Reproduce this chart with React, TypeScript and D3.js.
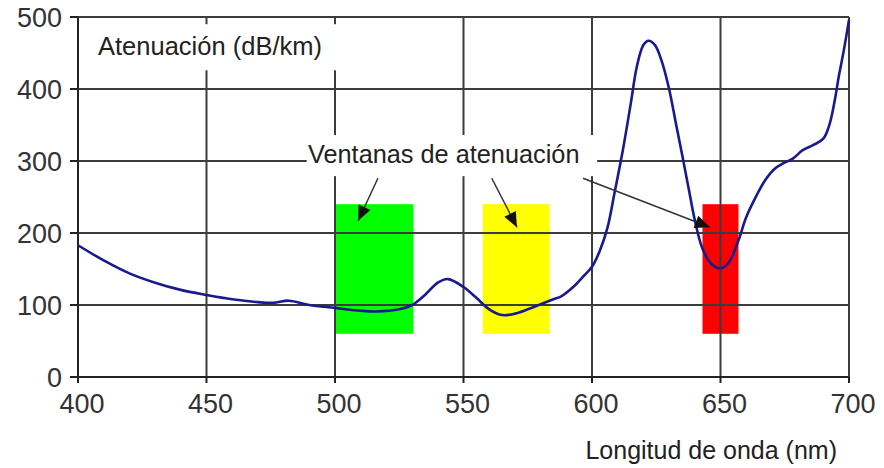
import React from 'react';
import * as d3 from 'd3';

// attenuation curve (nm -> dB/km)
const wavelengths = [
  400, 410, 420, 430, 440, 450, 460, 470, 476, 482, 490, 500, 510, 516, 525, 530, 535, 540, 544,
  550, 555, 560, 565, 570, 575, 580, 585, 588, 593, 597, 600, 603, 606, 609, 612, 615, 617.5, 620,
  622, 624.5, 627, 630, 632.5, 635, 637.5, 640, 643, 646.5, 650, 653, 657, 660, 664, 667.5, 671,
  674.5, 678, 682, 686, 690, 692.5, 694.5, 696, 698, 700,
];
const attenuation = [
  183, 162, 144, 131, 121, 114, 108, 104, 103, 106, 100, 96, 92, 91, 94, 100, 114, 131, 136,
  125, 110, 94, 86, 88, 94, 101, 108, 112, 126, 141, 153, 175, 207, 260, 315, 378, 432, 461,
  467, 461, 440, 400, 355, 310, 264, 218, 178, 157, 151, 158, 190, 222, 252, 274, 289,
  297, 303, 315, 322, 331, 352, 385, 417, 454, 496,
];

// transmission windows
const windowStart = [500, 557.5, 643];
const windowEnd = [530.5, 583.5, 657];
const windowColors = ['#00ff00', '#ffff00', '#ff0000'];
const windowLow = 60;
const windowHigh = 240;

const xTicks = [400, 450, 500, 550, 600, 650, 700];
const yTicks = [0, 100, 200, 300, 400, 500];

// annotation arrows, in data units: [fromNm, fromVal, toNm, toVal]
const arrows = [
  [516.7, 276, 509, 217],
  [561, 276, 570.8, 208],
  [596.5, 276, 645.9, 208],
];

const W = 884;
const H = 468;
const FONT = "'Liberation Sans', Arial, sans-serif";

const App: React.FC = () => {
  const x = d3.scaleLinear().domain([400, 700]).range([78, 849]);
  const y = d3.scaleLinear().domain([0, 500]).range([377, 17]);

  const pts: [number, number][] = wavelengths.map((w, i) => [w, attenuation[i]]);
  const line = d3
    .line<[number, number]>()
    .x((d) => x(d[0]))
    .y((d) => y(d[1]))
    .curve(d3.curveCatmullRom.alpha(0.5));

  const arrowHead = (x1: number, y1: number, x2: number, y2: number) => {
    const a = Math.atan2(y2 - y1, x2 - x1);
    const len = 15;
    const hw = 6.5;
    const bx = x2 - len * Math.cos(a);
    const by = y2 - len * Math.sin(a);
    const px = -Math.sin(a) * hw;
    const py = Math.cos(a) * hw;
    return `M${x2},${y2}L${bx + px},${by + py}L${bx - px},${by - py}Z`;
  };

  return (
    <svg width={W} height={H} style={{ position: 'absolute', left: 0, top: 0, background: '#fff' }}>
      {/* colored windows */}
      {windowStart.map((s, i) => (
        <rect
          key={'w' + i}
          x={x(s)}
          y={y(windowHigh)}
          width={x(windowEnd[i]) - x(s)}
          height={y(windowLow) - y(windowHigh)}
          fill={windowColors[i]}
        />
      ))}

      {/* grid */}
      {xTicks.slice(1).map((t) => (
        <line key={'gx' + t} x1={x(t)} x2={x(t)} y1={y(500)} y2={y(0)} stroke="#3c3c3c" strokeWidth={2} />
      ))}
      {yTicks.slice(1).map((t) => (
        <line key={'gy' + t} x1={x(400)} x2={x(700)} y1={y(t)} y2={y(t)} stroke="#3c3c3c" strokeWidth={2} />
      ))}

      {/* axes */}
      <line x1={x(400)} x2={x(400)} y1={y(500)} y2={y(0) + 6} stroke="#222" strokeWidth={2} />
      <line x1={x(400) - 8} x2={x(700)} y1={y(0)} y2={y(0)} stroke="#222" strokeWidth={2} />
      {xTicks.map((t) => (
        <line key={'tx' + t} x1={x(t)} x2={x(t)} y1={y(0)} y2={y(0) + 6} stroke="#222" strokeWidth={2} />
      ))}
      {yTicks.map((t) => (
        <line key={'ty' + t} x1={x(400) - 8} x2={x(400)} y1={y(t)} y2={y(t)} stroke="#222" strokeWidth={2} />
      ))}

      {/* tick labels */}
      {yTicks.map((t) => (
        <text
          key={'ly' + t}
          x={62}
          y={y(t)}
          dy="0.36em"
          textAnchor="end"
          fontFamily={FONT}
          fontSize={27}
          fill="#333"
        >
          {t}
        </text>
      ))}
      {xTicks.map((t) => (
        <text
          key={'lx' + t}
          x={x(t) + 4}
          y={413}
          textAnchor="middle"
          fontFamily={FONT}
          fontSize={27}
          fill="#333"
        >
          {t}
        </text>
      ))}

      {/* label boxes */}
      <rect x={x(403.9)} y={y(490)} width={x(502) - x(403.9)} height={y(426) - y(490)} fill="#fff" />
      <rect x={x(489)} y={y(336)} width={x(602) - x(489)} height={y(279) - y(336)} fill="#fff" />

      {/* curve */}
      <path d={line(pts) || ''} fill="none" stroke="#1a1a8c" strokeWidth={2.6} />

      {/* arrows */}
      {arrows.map((a, i) => {
        const x1 = x(a[0]);
        const y1 = y(a[1]);
        const x2 = x(a[2]);
        const y2 = y(a[3]);
        return (
          <g key={'a' + i}>
            <line x1={x1} y1={y1} x2={x2} y2={y2} stroke="#333" strokeWidth={1.5} />
            <path d={arrowHead(x1, y1, x2, y2)} fill="#111" />
          </g>
        );
      })}

      {/* texts */}
      <text x={x(407.8)} y={y(447)} fontFamily={FONT} fontSize={25.5} fill="#222">
        Atenuación (dB/km)
      </text>
      <text x={x(489.5)} y={y(297)} fontFamily={FONT} fontSize={25.3} fill="#222">
        Ventanas de atenuación
      </text>
      <text x={837} y={459} textAnchor="end" fontFamily={FONT} fontSize={25} fill="#222">
        Longitud de onda (nm)
      </text>
    </svg>
  );
};

export default App;
